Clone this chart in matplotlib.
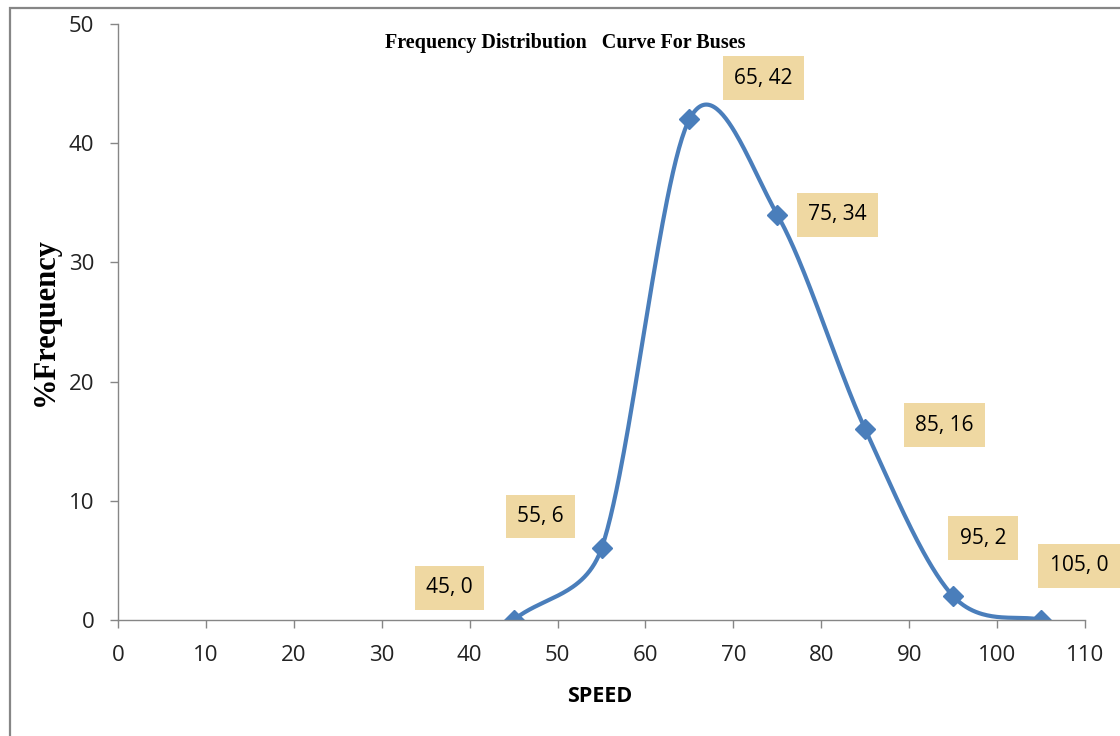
import matplotlib.pyplot as plt
import numpy as np
from matplotlib.patches import Rectangle

speed = [45, 55, 65, 75, 85, 95, 105]
freq = [0, 6, 42, 34, 16, 2, 0]
labels = ["45, 0", "55, 6", "65, 42", "75, 34", "85, 16", "95, 2", "105, 0"]
# label offsets in pixels (dx, dy) from the point
offsets = [(-64, 32), (-61, 32), (74, 41), (60, 0), (79, 4), (30, 58), (38, 54)]

BLUE = "#4A7EBB"
TAN = "#EFD8A2"
GRAY = "#868686"

# pixels per data unit, used to make the smoothing look like Excel's
PX_X = 967 / 110
PX_Y = 596 / 50


def excel_smooth(x, y, n=60, clamp=0.45):
    # cubic bezier through the points, arms limited by segment length
    p = np.column_stack([np.asarray(x, float) * PX_X, np.asarray(y, float) * PX_Y])
    t = np.linspace(0, 1, n)[:, None]
    k = len(p)
    out = []
    for i in range(k - 1):
        p0, p3 = p[i], p[i + 1]
        seg = np.linalg.norm(p3 - p0)
        a1 = (p[i + 1] - p[i - 1]) / 6 if i > 0 else (p[1] - p[0]) / 3
        a2 = (p[i + 2] - p[i]) / 6 if i + 2 < k else (p[-1] - p[-2]) / 4
        for a in (a1, a2):
            L = np.linalg.norm(a)
            if L > clamp * seg:
                a *= clamp * seg / L
        p1 = p0 + a1
        p2 = p3 - a2
        b = (1 - t) ** 3 * p0 + 3 * (1 - t) ** 2 * t * p1 + 3 * (1 - t) * t ** 2 * p2 + t ** 3 * p3
        out.append(b)
    out = np.vstack(out)
    return out[:, 0] / PX_X, out[:, 1] / PX_Y


fig = plt.figure(figsize=(11.2, 7.36), dpi=100, facecolor="white")
fig.patches.append(Rectangle((10 / 1120, -0.05), 1.1, 1 - 8 / 736 + 0.05,
                             transform=fig.transFigure, fill=False,
                             edgecolor=GRAY, linewidth=1.6))
ax = fig.add_axes([118 / 1120, 1 - 620 / 736, (1085 - 118) / 1120, (620 - 24) / 736])

sx, sy = excel_smooth(speed, freq)
ax.plot(sx, sy, color=BLUE, linewidth=3, solid_capstyle="round")
ax.plot(speed, freq, linestyle="none", marker="D", markersize=10.5, color=BLUE)

for x, y, lab, (dx, dy) in zip(speed, freq, labels, offsets):
    ax.annotate(lab, (x, y), xytext=(dx * 0.72, dy * 0.72), textcoords="offset points",
                ha="center", va="center", fontsize=15, family="Open Sans",
                bbox=dict(boxstyle="square,pad=0.55", facecolor=TAN, edgecolor="none"))

ax.set_xlim(0, 110)
ax.set_ylim(0, 50)
ax.set_xticks(range(0, 111, 10))
ax.set_yticks(range(0, 51, 10))
for s in ["top", "right"]:
    ax.spines[s].set_visible(False)
for s in ["left", "bottom"]:
    ax.spines[s].set_color(GRAY)
    ax.spines[s].set_linewidth(1)
ax.tick_params(colors=GRAY, labelcolor="#222222", labelsize=16, length=6, width=1)
ax.tick_params(axis="y", pad=11)
ax.tick_params(axis="x", pad=12)
for t in ax.get_xticklabels() + ax.get_yticklabels():
    t.set_family("Open Sans")

ax.set_xlabel("SPEED", fontsize=15.5, fontweight="bold", family="Open Sans")
ax.xaxis.set_label_coords((600 - 118) / 967, (620 - 696) / 596)
ax.xaxis.label.set_va("center")
ax.set_ylabel("%Frequency", fontsize=22, fontweight="bold", family="Liberation Serif")
ax.yaxis.set_label_coords((45 - 118) / 967, 0.5)
ax.yaxis.label.set_va("center")
fig.text(565 / 1120, 1 - 43 / 736, "Frequency Distribution   Curve For Buses",
         ha="center", va="center", fontsize=14.5, fontweight="bold", family="Liberation Serif")

fig.savefig("out.png", dpi=100, facecolor="white")
